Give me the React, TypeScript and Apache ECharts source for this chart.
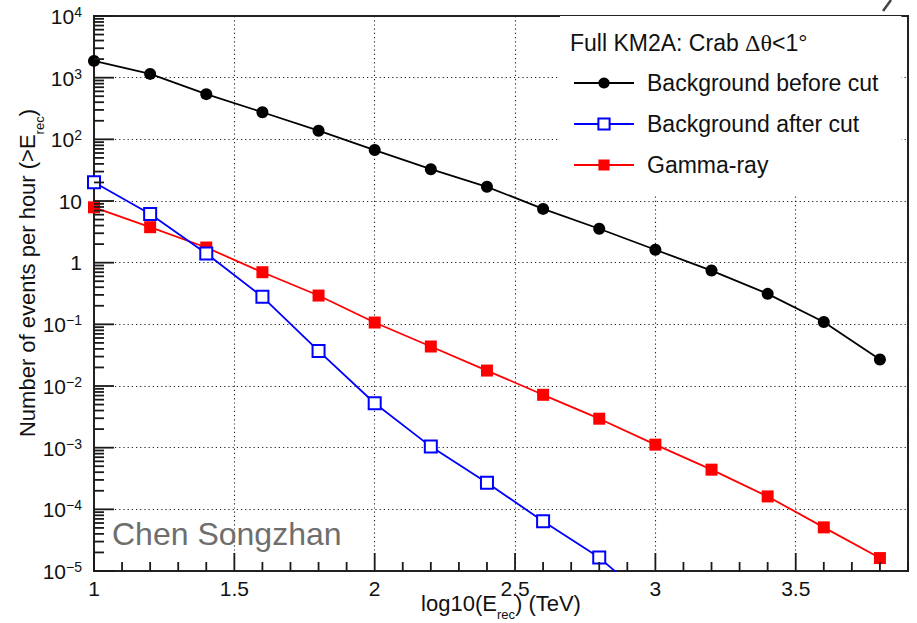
import React, { useEffect, useRef } from "react";
import * as echarts from "echarts";

// log10 of the reconstructed energy (TeV), one bin every 0.2
const energyBins = [1.0, 1.2, 1.4, 1.6, 1.8, 2.0, 2.2, 2.4, 2.6, 2.8, 3.0, 3.2, 3.4, 3.6, 3.8];

// Integral event rates per hour above E_rec
const backgroundBeforeCut = [1870, 1150, 540, 275, 138, 67, 32.8, 17.0, 7.45, 3.55, 1.62, 0.745, 0.312, 0.109, 0.0269];
const backgroundAfterCut = [20.2, 6.17, 1.41, 0.279, 0.0371, 0.00525, 0.00104, 2.7e-4, 6.4e-5, 1.65e-5, 2.7e-6];
const gammaRay = [7.9, 3.76, 1.76, 0.7, 0.293, 0.107, 0.0437, 0.0178, 0.0072, 0.00295, 0.00112, 4.4e-4, 1.62e-4, 5.1e-5, 1.62e-5];

const seriesNames = ["Background before cut", "Background after cut", "Gamma-ray"];

// Axis tick marks
const xMajorTicks = [1, 1.5, 2, 2.5, 3, 3.5];
const xMinorTicks = [
  1.1, 1.2, 1.3, 1.4, 1.6, 1.7, 1.8, 1.9, 2.1, 2.2, 2.3, 2.4, 2.6, 2.7, 2.8, 2.9,
  3.1, 3.2, 3.3, 3.4, 3.6, 3.7, 3.8, 3.9,
];
const yDecades = [1e-5, 1e-4, 1e-3, 1e-2, 1e-1, 1, 10, 100, 1000, 1e4];
const yMantissas = [2, 3, 4, 5, 6, 7, 8, 9];

const X_MIN = 1;
const X_MAX = 3.9;
const Y_MIN = 1e-5;
const Y_MAX = 1e4;

const FONT = "Liberation Sans";
const INK = "#111";
const FRAME = "#222";
const TICK = "#1a1a1a";

const pairs = (values: number[]) => values.map((v, i) => [energyBins[i], v]);

const yMinorTicks = yDecades
  .slice(0, -1)
  .flatMap((d) => yMantissas.map((m) => m * d));

const decadeLabel = (v: number) => {
  const e = Math.round(Math.log10(v));
  if (e === 0) return "1";
  if (e === 1) return "10";
  const exp = e < 0 ? "\u2212" + -e : String(e);
  return `{b|10}{s|${exp}}`;
};

const staticGraphics = [
  {
    type: "text",
    x: 31,
    y: 273,
    rotation: Math.PI / 2,
    style: {
      text: "{a|Number of events per hour (>E}{s|rec}{a|)}",
      align: "center",
      verticalAlign: "middle",
      rich: {
        a: { fontFamily: FONT, fontSize: 22, lineHeight: 30, verticalAlign: "top", fill: INK },
        s: { fontFamily: FONT, fontSize: 13, lineHeight: 30, verticalAlign: "bottom", fill: INK },
      },
    },
  },
  {
    type: "text",
    x: 112,
    y: 534,
    style: {
      text: "Chen Songzhan",
      fontFamily: FONT,
      fontSize: 32,
      fill: "#6e6e6e",
      align: "left",
      verticalAlign: "middle",
    },
  },
  {
    type: "line",
    shape: { x1: 883, y1: 11, x2: 891, y2: 0 },
    style: { stroke: "#444", lineWidth: 2.5 },
  },
];

export default function App() {
  const ref = useRef<HTMLDivElement>(null);

  useEffect(() => {
    if (!ref.current) return;
    const chart = echarts.init(ref.current, null, { renderer: "svg" });

    const dotted = { color: "#222", width: 1.1, type: [1.2, 3] as number[] };

    chart.setOption({
      animation: false,
      backgroundColor: "#fff",
      textStyle: { fontFamily: FONT, color: INK },
      title: {
        left: 570,
        top: 31,
        padding: 0,
        text: "{a|Full KM2A: Crab }{g|\u0394\u03b8}{a|<1\u00b0}",
        textStyle: {
          fontWeight: "normal",
          rich: {
            a: { fontFamily: FONT, fontSize: 23, fontWeight: "normal", color: INK },
            g: { fontFamily: "Liberation Serif", fontSize: 24, fontWeight: "normal", color: INK },
          },
        },
      },
      legend: {
        left: 560,
        top: 16,
        orient: "vertical",
        padding: [54, 23, 17, 13],
        backgroundColor: "#fff",
        itemWidth: 60,
        itemHeight: 14,
        itemGap: 15,
        data: seriesNames,
        formatter: "{p| }{name}",
        textStyle: {
          fontFamily: FONT,
          fontSize: 23,
          lineHeight: 26,
          color: INK,
          rich: { p: { width: 8, fontSize: 23 } },
        },
      },
      grid: {
        left: 94,
        right: 9,
        top: 16,
        bottom: 52,
        show: true,
        borderColor: FRAME,
        borderWidth: 2,
        outerBoundsMode: "none",
        containLabel: false,
      },
      xAxis: {
        type: "value",
        min: X_MIN,
        max: X_MAX,
        interval: 0.5,
        axisLine: { show: true, lineStyle: { color: FRAME, width: 2 } },
        axisTick: { show: false },
        axisLabel: {
          customValues: xMajorTicks,
          fontSize: 21,
          fontFamily: FONT,
          color: INK,
          margin: 7,
        },
        splitLine: { show: true, lineStyle: dotted },
        name: "{a|log10(E}{s|rec}{a|) (TeV)}",
        nameLocation: "middle",
        nameGap: 21,
        nameMoveOverlap: false,
        nameTextStyle: {
          rich: {
            a: { fontFamily: FONT, fontSize: 22, lineHeight: 29, verticalAlign: "top", color: INK },
            s: { fontFamily: FONT, fontSize: 13, lineHeight: 29, verticalAlign: "bottom", color: INK },
          },
        },
      },
      yAxis: {
        type: "log",
        logBase: 10,
        min: Y_MIN,
        max: Y_MAX,
        interval: 1,
        axisLine: { show: true, lineStyle: { color: FRAME, width: 2 } },
        axisTick: { show: false },
        minorTick: { show: false },
        axisLabel: {
          fontSize: 21,
          fontFamily: FONT,
          color: INK,
          margin: 12,
          formatter: decadeLabel,
          rich: {
            b: { fontFamily: FONT, fontSize: 21, lineHeight: 22, verticalAlign: "bottom", color: INK },
            s: { fontFamily: FONT, fontSize: 14, lineHeight: 22, verticalAlign: "top", color: INK },
          },
        },
        splitLine: { show: true, lineStyle: dotted },
        minorSplitLine: { show: false },
      },
      series: [
        {
          name: seriesNames[0],
          type: "line",
          data: pairs(backgroundBeforeCut),
          symbol: "circle",
          symbolSize: 12,
          color: "#000",
          lineStyle: { color: "#000", width: 1.8 },
          itemStyle: { color: "#000" },
          z: 2,
        },
        {
          name: seriesNames[1],
          type: "line",
          data: pairs(backgroundAfterCut),
          symbol: "emptyRect",
          symbolSize: 12,
          color: "#0000ff",
          lineStyle: { color: "#0000ff", width: 1.8 },
          itemStyle: { color: "#0000ff", borderWidth: 1.6 },
          clip: true,
          z: 4,
        },
        {
          name: seriesNames[2],
          type: "line",
          data: pairs(gammaRay),
          symbol: "rect",
          symbolSize: 12,
          color: "#ff0000",
          lineStyle: { color: "#ff0000", width: 1.8 },
          itemStyle: { color: "#ff0000" },
          z: 3,
        },
      ],
    });

    // Inward tick marks along the bottom and left frame, placed through the axis scales
    const toPx = (x: number, y: number) =>
      chart.convertToPixel({ gridIndex: 0 }, [x, y]) as number[];
    const tickStyle = { stroke: TICK, lineWidth: 1.8 };
    const xTick = (x: number, len: number) => {
      const [cx, cy] = toPx(x, Y_MIN);
      return { type: "line", z: 50, shape: { x1: cx, y1: cy, x2: cx, y2: cy - len }, style: tickStyle };
    };
    const yTick = (y: number, len: number) => {
      const [cx, cy] = toPx(X_MIN, y);
      return { type: "line", z: 50, shape: { x1: cx, y1: cy, x2: cx + len, y2: cy }, style: tickStyle };
    };
    const tickGraphics = [
      ...xMajorTicks.map((x) => xTick(x, 18)),
      ...xMinorTicks.map((x) => xTick(x, 9)),
      ...yDecades.map((y) => yTick(y, 20)),
      ...yMinorTicks.map((y) => yTick(y, 10)),
    ];

    chart.setOption({ graphic: [...staticGraphics, ...tickGraphics] });

    return () => chart.dispose();
  }, []);

  return (
    <div
      ref={ref}
      style={{ position: "fixed", left: 0, top: 0, width: 917, height: 623 }}
    />
  );
}
